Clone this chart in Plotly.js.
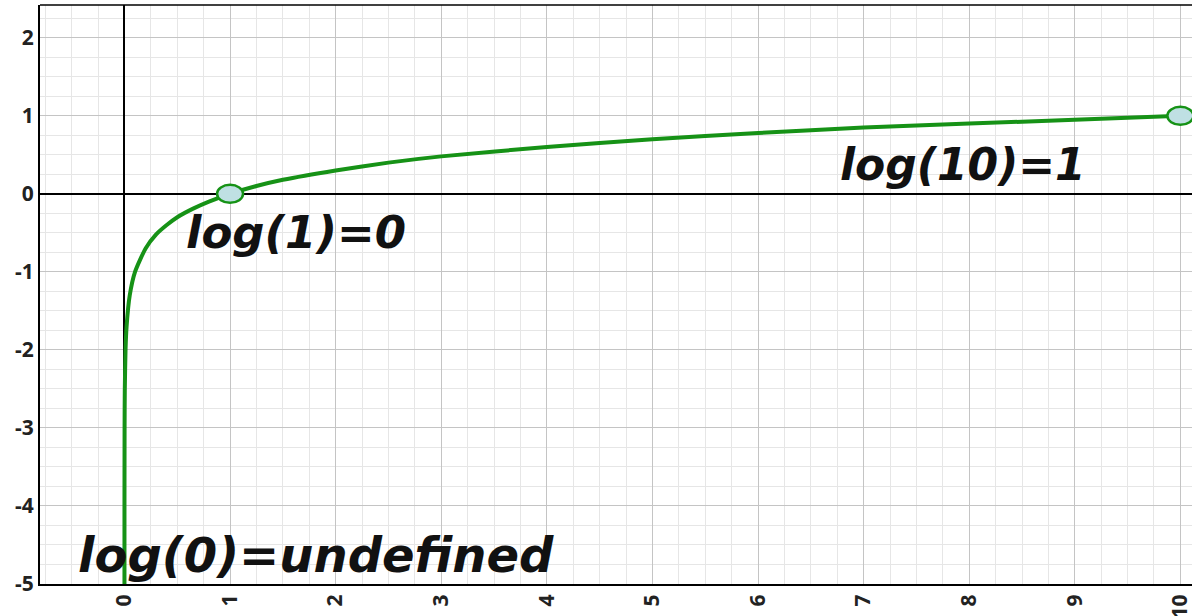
<!DOCTYPE html>
<html>
<head>
<meta charset="utf-8">
<script src="https://cdn.plot.ly/plotly-3.0.1.min.js"></script>
<style>html,body{margin:0;padding:0;background:#fff;}#chart{width:1192px;height:616px;}</style>
</head>
<body>
<div id="chart"></div>
<script>
// Curve samples (y = log10 x)
const curveX = [0.00001, 0.0001, 0.001, 0.003, 0.01, 0.02, 0.05, 0.1, 0.2, 0.3, 0.4, 0.5, 0.65, 0.8, 1, 1.25, 1.5, 2, 2.5, 3, 4, 5, 6, 7, 8, 9, 10];
const curveY = [-5, -4, -3, -2.52, -2, -1.70, -1.30, -1, -0.70, -0.52, -0.40, -0.30, -0.19, -0.10, 0, 0.10, 0.18, 0.30, 0.40, 0.48, 0.60, 0.70, 0.78, 0.85, 0.90, 0.95, 1];
// Highlighted points
const pointX = [1, 10];
const pointY = [0, 1];
// Labels
const labelText = ["log(10)=1", "log(1)=0", "log(0)=undefined"];
const labelX = [7.94, 1.62, 1.81];
const labelY = [0.37, -0.49, -4.63];
// Tick labels
const xTicks = [0, 1, 2, 3, 4, 5, 6, 7, 8, 9, 10];
const yTicks = [-5, -4, -3, -2, -1, 0, 1, 2];

const green = '#169216';
const labelSizes = [44, 45, 48];
const traces = [{
  x: curveX, y: curveY, type: 'scatter', mode: 'lines',
  line: {color: green, width: 4, shape: 'spline', smoothing: 0.6},
  hoverinfo: 'skip'
}];

const shapes = pointX.map((px, i) => ({
  type: 'circle', xref: 'x', yref: 'y', xsizemode: 'pixel', ysizemode: 'pixel',
  xanchor: px, yanchor: pointY[i], x0: -13, x1: 13, y0: -9, y1: 9,
  fillcolor: '#bfe0e3', line: {color: green, width: 2.5}, layer: 'above'
}));
shapes.push({type: 'line', xref: 'paper', yref: 'paper', x0: 0, x1: 1, y0: 1, y1: 1, line: {color: '#000', width: 1.5}});

const annotations = labelText.map((t, i) => ({
  text: t, x: labelX[i], y: labelY[i], xref: 'x', yref: 'y', showarrow: false,
  font: {family: '"DejaVu Sans", sans-serif', size: labelSizes[i], color: '#111', weight: 'bold', style: 'italic'},
  xanchor: 'center', yanchor: 'middle'
}));

const tickFont = {family: '"Open Sans", "DejaVu Sans", sans-serif', size: 21, color: '#222', weight: 'bold'};

const layout = {
  width: 1192, height: 616,
  margin: {l: 40, r: 0, t: 5, b: 32, pad: 0},
  paper_bgcolor: '#fff', plot_bgcolor: '#fff',
  showlegend: false,
  xaxis: {
    range: [-0.8, 10.11], tickmode: 'array', tickvals: xTicks, ticktext: xTicks.map(String),
    tickangle: -90, tickfont: tickFont, ticks: '', ticklen: 0, ticklabeloverflow: 'allow',
    showgrid: true, gridcolor: '#c4c4c4', gridwidth: 1,
    minor: {dtick: 0.25, tick0: 0, showgrid: true, gridcolor: '#e6e6e6', gridwidth: 1},
    zeroline: true, zerolinecolor: '#000', zerolinewidth: 2,
    showline: true, linecolor: '#000', linewidth: 2, fixedrange: true
  },
  yaxis: {
    range: [-5, 2.42], tickmode: 'array', tickvals: yTicks, ticktext: yTicks.map(String),
    tickfont: tickFont, ticks: '', ticklen: 0, ticklabeloverflow: 'allow',
    showgrid: true, gridcolor: '#c4c4c4', gridwidth: 1,
    minor: {dtick: 0.25, tick0: 0, showgrid: true, gridcolor: '#e6e6e6', gridwidth: 1},
    zeroline: true, zerolinecolor: '#000', zerolinewidth: 2,
    showline: true, linecolor: '#000', linewidth: 2, fixedrange: true
  },
  shapes: shapes,
  annotations: annotations
};

Plotly.newPlot('chart', traces, layout, {displayModeBar: false, staticPlot: true});
</script>
</body>
</html>
